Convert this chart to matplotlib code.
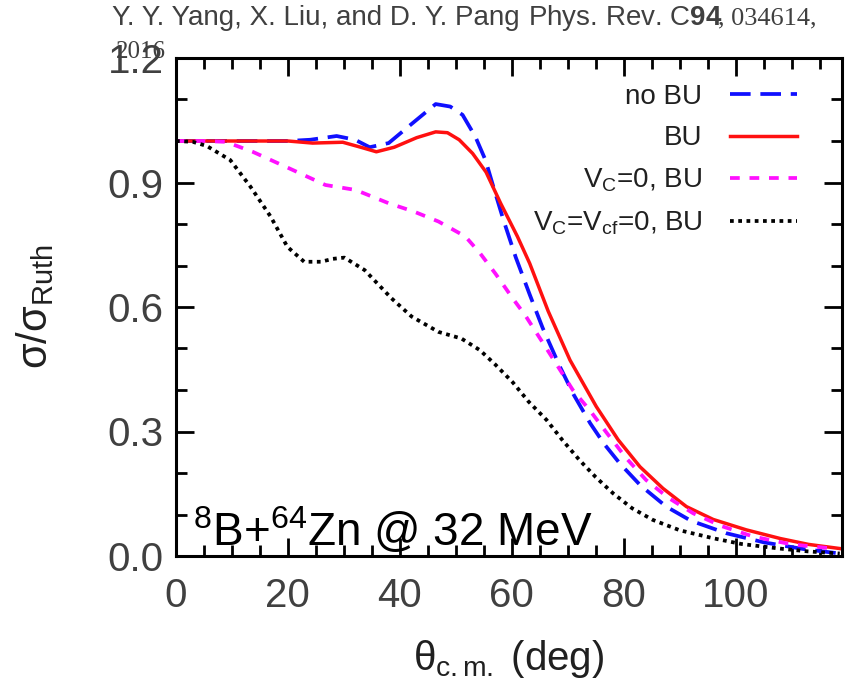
import matplotlib
matplotlib.use('Agg')
import matplotlib.pyplot as plt
from matplotlib.ticker import MultipleLocator

plt.rcParams['font.family'] = ['Liberation Sans', 'DejaVu Sans']
plt.rcParams['mathtext.fontset'] = 'custom'
plt.rcParams['mathtext.rm'] = 'Liberation Sans'
plt.rcParams['mathtext.it'] = 'Liberation Sans'
plt.rcParams['mathtext.bf'] = 'Liberation Sans:bold'

# no BU (blue dashed)
th_nobu = [0, 10, 20, 24, 28.7, 32, 34.6, 38, 42, 46.4, 49, 51.2, 53.5, 55.3, 56.7, 58.5,
           60.7, 63.2, 65.5, 68.6, 71, 74, 76.5, 79.3, 83, 87.6, 92, 98.3, 105, 112, 118.6]
xs_nobu = [1.0, 1.0, 1.0, 1.003, 1.012, 1.003, 0.985, 0.995, 1.04, 1.089, 1.083, 1.063, 1.01, 0.954,
           0.89, 0.81, 0.72, 0.63, 0.55, 0.456, 0.39, 0.320, 0.27, 0.223, 0.17, 0.119, 0.085,
           0.055, 0.033, 0.017, 0.006]

# BU (red solid)
th_bu = [0, 10, 20, 24.4, 29.8, 33, 35.8, 39, 43, 46.4, 48.5, 50.6, 53, 55.4, 58, 61, 63.2,
         66.5, 70.4, 73, 75.1, 79, 82.9, 87, 91.2, 96, 101.9, 108, 113, 118.6]
xs_bu = [1.0, 1.0, 1.0, 0.995, 0.997, 0.985, 0.974, 0.985, 1.008, 1.022, 1.02, 1.003, 0.97, 0.925,
         0.85, 0.77, 0.705, 0.59, 0.472, 0.41, 0.360, 0.28, 0.215, 0.163, 0.119, 0.088, 0.063,
         0.042, 0.028, 0.018]

# V_C=0, BU (magenta dashed)
th_vc = [0, 5, 8.9, 13.7, 19.6, 26.7, 32.1, 38, 42.5, 46.9, 51.7, 54.3, 57.1, 60.2, 62.4, 66.2,
         70.9, 74, 77, 80.5, 84, 88, 92.4, 97.5, 103.1, 110, 117.4]
xs_vc = [1.0, 1.0, 0.998, 0.974, 0.938, 0.894, 0.882, 0.850, 0.83, 0.806, 0.770, 0.73, 0.68,
         0.62, 0.58, 0.50, 0.40, 0.35, 0.296, 0.235, 0.183, 0.14, 0.103, 0.072, 0.047,
         0.028, 0.018]

# V_C=V_cf=0, BU (black dotted)
th_vcf = [0, 3, 5.5, 9.7, 13.3, 16.9, 19.9, 22.9, 25.9, 28, 30.1, 33.7, 38.5, 42.1, 46.9, 51,
          54.3, 57, 60.2, 63, 66.2, 69, 72.1, 75, 78.1, 81.5, 85.2, 90, 95.9, 101, 107.8, 113, 118.6]
xs_vcf = [1.0, 0.998, 0.988, 0.954, 0.890, 0.818, 0.745, 0.709, 0.709, 0.716, 0.719, 0.689, 0.621,
          0.577, 0.540, 0.524, 0.496, 0.462, 0.418, 0.372, 0.328, 0.28, 0.231, 0.19, 0.151, 0.115,
          0.087, 0.062, 0.043, 0.029, 0.018, 0.011, 0.006]

fig = plt.figure(figsize=(8.51, 6.84), dpi=100)
ax = fig.add_axes([176/851, 1 - 556/684, 666/851, 498/684])

ax.plot(th_nobu, xs_nobu, color='#1010ff', lw=2.7, dashes=(5.5, 2.6), label='no BU')
ax.plot(th_bu, xs_bu, color='#ff1010', lw=2.5, label='BU')
ax.plot(th_vc, xs_vc, color='#ff10ff', lw=2.7, dashes=(2.6, 2.6), label='V$_{\\mathrm{C}}$=0, BU')
ax.plot(th_vcf, xs_vcf, color='black', lw=2.7, dashes=(1.0, 1.2),
        label='V$_{\\mathrm{C}}$=V$_{\\mathrm{cf}}$=0, BU')

ax.set_xlim(0, 119)
ax.set_ylim(0, 1.2)
ax.xaxis.set_minor_locator(MultipleLocator(5))
ax.yaxis.set_minor_locator(MultipleLocator(0.1))
ax.set_xticks([0, 20, 40, 60, 80, 100])
ax.set_yticks([0.0, 0.3, 0.6, 0.9, 1.2])
ax.set_yticklabels(['0.0', '0.3', '0.6', '0.9', '1.2'])
ax.tick_params(which='both', direction='in', top=True, right=True, width=2,
               labelsize=29, labelcolor='#404040')
ax.tick_params(axis='x', pad=15)
ax.tick_params(axis='y', pad=9)
ax.tick_params(which='major', length=13)
ax.tick_params(which='minor', length=8)
for s in ax.spines.values():
    s.set_linewidth(2.2)

ax.set_xlabel('θ$_{\\mathrm{c.m.}}$ (deg)', fontsize=29, color='#202020')
ax.xaxis.set_label_coords(0.5, -0.165)
ax.set_ylabel('σ/σ$_{\\mathrm{Ruth}}$', fontsize=30, color='#202020')
ax.yaxis.set_label_coords(-0.18, 0.5)

leg = ax.legend(loc='upper right', frameon=False, markerfirst=False, fontsize=20,
                handlelength=2.4, handletextpad=1.0, labelspacing=0.55,
                borderaxespad=0.0, bbox_to_anchor=(0.949, 0.97))
for t in leg.get_texts():
    t.set_color('#202020')

ax.text(0.025, 0.02, '$^{8}$B+$^{64}$Zn @ 32 MeV', transform=ax.transAxes,
        fontsize=33, color='black', ha='left', va='baseline')

fig.text(112/851, 1 - 18/684, 'Y. Y. Yang, X. Liu, and D. Y. Pang',
         ha='left', va='center', fontsize=20, color='#404040')
fig.text(528/851, 1 - 18/684, 'Phys. Rev. C$\\mathbf{94}$',
         ha='left', va='center', fontsize=20, color='#404040')
fig.text(718/851, 1 - 18/684, ', 034614,', ha='left', va='center', fontsize=19,
         color='#404040', family='Liberation Serif')
fig.text(166/851, 1 - 52/684, '2016', ha='right', va='center', fontsize=18,
         color='#404040', family='Liberation Serif')

fig.savefig('out.png', dpi=100)
